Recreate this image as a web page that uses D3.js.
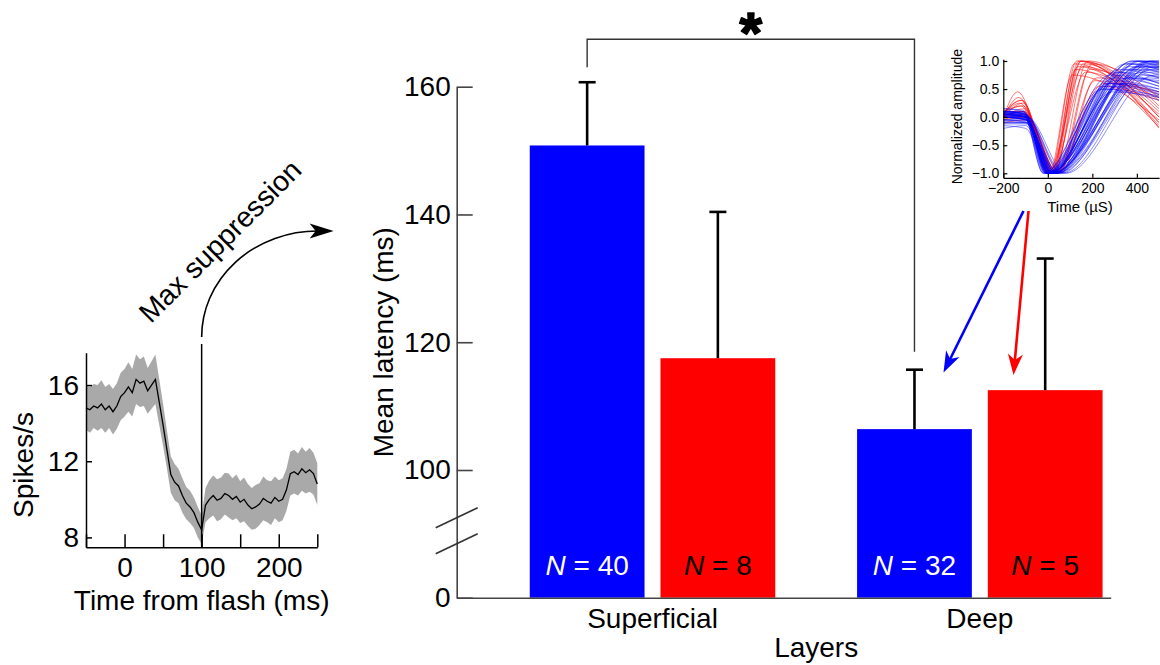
<!DOCTYPE html>
<html>
<head>
<meta charset="utf-8">
<script src="https://cdn.jsdelivr.net/npm/d3@7"></script>
<style>
  html, body { margin: 0; padding: 0; background: #fff; }
  svg { display: block; font-family: "Liberation Sans", Arial, Helvetica, sans-serif; }
</style>
</head>
<body>
<svg id="fig" width="1160" height="665"></svg>
<script>
// ---------------- Mean latency by layer and cell type ----------------
const layers = ["Superficial", "Deep"];
const cellTypes = ["broad", "narrow"];
const cellColors = ["#0000ff", "#ff0000"];
const cellTextColors = ["#ffffff", "#000000"];
const latencyMean = [[150.8, 117.5], [106.4, 112.5]];
const latencySem = [[9.9, 22.9], [9.3, 20.6]];
const cellCounts = [[40, 8], [32, 5]];
const latencyTicks = [0, 100, 120, 140, 160];

// ---------------- Population PSTH around the flash ----------------
const psthTime = [-50, -45, -40, -35, -30, -25, -20, -15, -10, -5,
  0, 5, 10, 15, 20, 25, 30, 35, 40, 45,
  50, 55, 60, 65, 70, 75, 80, 85, 90, 95,
  100, 105, 110, 115, 120, 125, 130, 135, 140, 145,
  150, 155, 160, 165, 170, 175, 180, 185, 190, 195,
  200, 205, 210, 215, 220, 225, 230, 235, 240, 245, 250];
const psthMean = [14.8, 14.7, 14.9, 14.8, 15.0, 14.7, 14.9, 14.6, 14.9, 15.4,
  15.6, 15.9, 15.6, 16.3, 16.1, 16.2, 15.7, 16.0, 16.3, 15.1,
  13.9, 12.6, 11.3, 10.9, 10.7, 10.2, 9.8, 9.6, 9.3, 8.8,
  8.4, 9.7, 10.0, 10.2, 9.95, 10.05, 10.3, 10.2, 10.0, 10.15,
  9.85, 10.0, 9.7, 9.5, 9.6, 9.75, 10.05, 9.9, 9.8, 10.1,
  9.9, 10.0, 10.5, 11.35, 11.45, 11.3, 11.6, 11.4, 11.55, 11.35, 10.8];
const psthSem = [1.15, 1.2, 1.15, 1.2, 1.25, 1.2, 1.15, 1.2, 1.2, 1.25,
  1.25, 1.3, 1.25, 1.3, 1.25, 1.3, 1.2, 1.25, 1.3, 1.2,
  1.1, 1.0, 0.95, 0.95, 0.9, 0.9, 0.85, 0.85, 0.8, 0.8,
  0.75, 0.9, 1.0, 1.05, 1.1, 1.1, 1.1, 1.15, 1.1, 1.15,
  1.1, 1.15, 1.1, 1.1, 1.15, 1.1, 1.15, 1.1, 1.15, 1.1,
  1.1, 1.1, 1.1, 1.15, 1.15, 1.1, 1.15, 1.1, 1.15, 1.1, 1.1];
const psthYTicks = [8, 12, 16];
const psthXTicks = [-50, 0, 50, 100, 150, 200, 250];
const psthXLabels = [0, 100, 200];
const suppressionTime = 100;

// ---------------- Spike waveforms ----------------
// each row: [amp at -200, pre-trough time, pre-trough amp, trough time, peak time, peak amp, amp at 500]
const broadWaves = [
  [0.05, -100, 0.0, 0, 420, 1.0, 0.95], [0.1, -110, 0.05, 10, 380, 1.0, 0.9],
  [0.0, -90, -0.05, -10, 350, 0.95, 0.85], [-0.1, -100, -0.1, 20, 450, 1.0, 0.98],
  [0.15, -110, 0.1, -20, 300, 0.7, 0.55], [0.05, -95, 0.0, 5, 280, 0.6, 0.45],
  [0.0, -100, 0.02, 15, 320, 0.8, 0.7], [-0.05, -90, -0.1, 30, 400, 0.9, 0.88],
  [0.1, -105, 0.05, -5, 260, 0.55, 0.35], [0.08, -100, 0.0, 0, 470, 1.0, 1.0],
  [0.0, -95, -0.05, 25, 440, 0.95, 0.93], [-0.15, -100, -0.2, 10, 360, 0.85, 0.75],
  [0.05, -110, 0.08, -15, 240, 0.5, 0.3], [0.12, -100, 0.05, 5, 330, 0.75, 0.6],
  [0.0, -90, -0.02, 35, 480, 0.95, 0.94], [0.06, -100, 0.0, 20, 300, 0.65, 0.5],
  [-0.05, -100, -0.08, 40, 420, 0.8, 0.78], [0.1, -110, 0.1, -10, 380, 1.0, 0.92],
  [0.02, -95, 0.0, 0, 410, 0.9, 0.85], [-0.2, -100, -0.15, 15, 460, 1.0, 0.98],
  [0.08, -105, 0.02, 25, 350, 0.7, 0.62], [0.0, -100, -0.05, 10, 290, 0.45, 0.35],
  [0.05, -90, 0.0, 60, 440, 0.85, 0.82], [0.1, -100, 0.05, 70, 480, 0.9, 0.9],
  [-0.1, -95, -0.1, 30, 330, 0.6, 0.5], [0.03, -100, 0.0, -5, 370, 0.9, 0.8],
  [0.15, -110, 0.12, 0, 400, 1.0, 0.96], [0.0, -100, -0.05, 20, 430, 0.75, 0.72],
  [0.05, -90, 0.0, 45, 360, 0.7, 0.65], [-0.05, -100, -0.03, 5, 250, 0.5, 0.38],
  [0.1, -100, 0.05, 15, 480, 1.0, 1.0], [0.0, -105, -0.02, -10, 320, 0.85, 0.7],
  [0.07, -95, 0.03, 35, 390, 0.95, 0.9], [-0.08, -100, -0.1, 50, 450, 0.7, 0.68],
  [0.04, -100, 0.0, 10, 340, 0.6, 0.45], [0.1, -110, 0.06, -20, 280, 0.75, 0.55],
  [0.0, -95, -0.04, 25, 410, 1.0, 0.97], [0.06, -100, 0.02, 0, 310, 0.55, 0.4],
  [-0.12, -100, -0.12, 40, 470, 0.85, 0.84], [0.08, -100, 0.04, 5, 360, 0.95, 0.87],
  [0.02, -90, 0.0, 80, 480, 0.75, 0.75], [0.1, -105, 0.08, 15, 300, 0.8, 0.6],
  [0.0, -100, -0.03, 30, 440, 0.9, 0.88], [-0.05, -95, -0.06, -5, 270, 0.6, 0.42],
  [0.05, -100, 0.0, 20, 390, 0.85, 0.8]
];
const narrowWaves = [
  [0.0, -135, 0.45, 20, 130, 1.0, -0.1], [0.05, -120, 0.3, 30, 150, 1.0, 0.0],
  [0.0, -110, 0.25, 10, 120, 0.95, -0.15], [-0.05, -100, 0.05, 40, 180, 1.0, 0.2],
  [0.1, -110, 0.1, 0, 160, 0.9, 0.1], [0.0, -130, 0.35, 25, 140, 1.0, -0.2],
  [0.05, -100, 0.0, 50, 200, 0.95, 0.35], [0.0, -105, 0.15, 15, 170, 0.8, 0.05],
  [-0.1, -100, -0.05, 35, 220, 0.7, 0.4], [0.05, -120, 0.2, 5, 110, 0.75, -0.05],
  [0.0, -100, 0.05, 45, 190, 0.85, 0.3], [0.08, -115, 0.3, 20, 135, 0.9, -0.1],
  [0.0, -100, 0.0, 30, 250, 0.6, 0.45], [0.02, -110, 0.1, 10, 150, 1.0, 0.15],
  [-0.05, -100, 0.0, 60, 210, 0.65, 0.35], [0.05, -125, 0.25, 25, 160, 0.95, 0.0],
  [0.0, -105, 0.1, 40, 230, 0.55, 0.3], [0.1, -110, 0.2, 15, 125, 0.85, -0.18]
];
const waveXTicks = [-200, 0, 200, 400];
const waveYTicks = [-1, -0.5, 0, 0.5, 1];

// ------------------------------------------------------------------
const FONT = '"Liberation Sans", Arial, Helvetica, sans-serif';
const svg = d3.select("#fig");

function styleAxis(g, size, color) {
  g.attr("font-family", FONT).attr("font-size", size);
  g.selectAll("text").attr("fill", "#000");
  g.selectAll("line").attr("stroke", color);
  g.select(".domain").attr("stroke", color);
}

function arrowHead(g, tip, angle, len, halfW, notch, color) {
  const pts = [[0, 0], [-len, -halfW], [-len + notch, 0], [-len, halfW]];
  g.append("polygon")
    .attr("points", pts.map(p => p.join(",")).join(" "))
    .attr("fill", color)
    .attr("transform", `translate(${tip[0]},${tip[1]}) rotate(${angle * 180 / Math.PI})`);
}

// ================= main bar chart =================
const y = d3.scaleLinear().domain([0, 100, 160]).range([597.7, 470, 86.7]);
const x0 = d3.scaleBand().domain(layers).range([456.7, 1110.7])
  .paddingInner(0.25).paddingOuter(0.124).align(0.9);
const x1 = d3.scaleBand().domain(cellTypes).range([0, x0.bandwidth()]).paddingInner(0.122);

const bars = [];
layers.forEach((layer, i) => cellTypes.forEach((ct, j) => bars.push({
  layer, ct, j, mean: latencyMean[i][j], sem: latencySem[i][j], n: cellCounts[i][j]
})));
const bx = d => x0(d.layer) + x1(d.ct);
const bc = d => bx(d) + x1.bandwidth() / 2;

const main = svg.append("g");
main.selectAll("rect.bar").data(bars).join("rect")
  .attr("class", "bar")
  .attr("x", bx).attr("width", x1.bandwidth())
  .attr("y", d => y(d.mean)).attr("height", d => y(0) - y(d.mean))
  .attr("fill", d => cellColors[d.j]);

// upper error bars
const capW = 17;
main.selectAll("line.err").data(bars).join("line")
  .attr("class", "err")
  .attr("x1", bc).attr("x2", bc)
  .attr("y1", d => y(d.mean)).attr("y2", d => y(d.mean + d.sem))
  .attr("stroke", "#000").attr("stroke-width", 2.6);
main.selectAll("line.cap").data(bars).join("line")
  .attr("class", "cap")
  .attr("x1", d => bc(d) - capW / 2).attr("x2", d => bc(d) + capW / 2)
  .attr("y1", d => y(d.mean + d.sem)).attr("y2", d => y(d.mean + d.sem))
  .attr("stroke", "#000").attr("stroke-width", 2.6);

// sample sizes
const nText = main.selectAll("text.n").data(bars).join("text")
  .attr("class", "n")
  .attr("x", bc).attr("y", 575)
  .attr("text-anchor", "middle")
  .attr("font-family", FONT).attr("font-size", 28)
  .attr("fill", d => cellTextColors[d.j]);
nText.append("tspan").attr("font-style", "italic").text("N");
nText.append("tspan").text(d => " = " + d.n);

// y axis (broken between 0 and 100)
const yAxisG = main.append("g").attr("transform", `translate(${x0.range()[0]},0)`)
  .call(d3.axisLeft(y).tickValues(latencyTicks).tickSizeInner(-16).tickSizeOuter(0)
    .tickPadding(6).tickFormat(d3.format("d")));
styleAxis(yAxisG, 28, "#444");
yAxisG.selectAll("line, .domain").attr("stroke-width", 1.6);

// axis break marks
[80, 54].forEach(off => {
  main.append("line")
    .attr("x1", x0.range()[0] - 21).attr("y1", y(0) - off + 10)
    .attr("x2", x0.range()[0] + 21).attr("y2", y(0) - off - 10)
    .attr("stroke", "#333").attr("stroke-width", 1.6);
});

// x axis
const xAxisG = main.append("g").attr("transform", `translate(0,${y(0)})`)
  .call(d3.axisBottom(x0).tickSize(0).tickPadding(10));
styleAxis(xAxisG, 28, "#444");
xAxisG.select(".domain").attr("stroke-width", 1.6);

const barsLeft = bx(bars[0]);
const barsRight = bx(bars[bars.length - 1]) + x1.bandwidth();
main.append("text")
  .attr("x", (barsLeft + barsRight) / 2).attr("y", 656.5)
  .attr("text-anchor", "middle").attr("font-family", FONT).attr("font-size", 28)
  .text("Layers");
main.append("text")
  .attr("transform", `translate(393,${(y(0) + y(160)) / 2}) rotate(-90)`)
  .attr("text-anchor", "middle").attr("font-family", FONT).attr("font-size", 28)
  .text("Mean latency (ms)");

// significance bracket between superficial broad and deep broad
const bL = bars[0], bR = bars[2];
const bTop = y(bL.mean + bL.sem) - 43;
main.append("path")
  .attr("d", `M${bc(bL)},${y(bL.mean + bL.sem) - 15} V${bTop} H${bc(bR)} V${y(bR.mean + bR.sem) - 18}`)
  .attr("fill", "none").attr("stroke", "#333").attr("stroke-width", 1.4);
main.append("text")
  .attr("x", (bc(bL) + bc(bR)) / 2).attr("y", bTop + 13.5)
  .attr("text-anchor", "middle").attr("font-family", FONT)
  .attr("font-weight", "bold").attr("font-size", 58)
  .attr("stroke", "#000").attr("stroke-width", 1.6).attr("stroke-linejoin", "round")
  .text("*");

// ================= PSTH inset =================
const px = d3.scaleLinear().domain([-50, 250]).range([86, 317.3]);
const py = d3.scaleLinear().domain([7.48, 17.7]).range([547.3, 352.7]);
const psth = psthTime.map((t, i) => ({ t, m: psthMean[i], s: psthSem[i] }));
const inset1 = svg.append("g");
inset1.append("path").datum(psth)
  .attr("d", d3.area().x(d => px(d.t)).y0(d => py(d.m - d.s)).y1(d => py(d.m + d.s)))
  .attr("fill", "#a9a9a9");
inset1.append("path").datum(psth)
  .attr("d", d3.line().x(d => px(d.t)).y(d => py(d.m)))
  .attr("fill", "none").attr("stroke", "#000").attr("stroke-width", 1.3);

const pyAxis = inset1.append("g").attr("transform", `translate(${px(-50)},0)`)
  .call(d3.axisLeft(py).tickValues(psthYTicks).tickSizeInner(-6).tickSizeOuter(0).tickPadding(7));
styleAxis(pyAxis, 28, "#000");
pyAxis.selectAll("line, .domain").attr("stroke-width", 1.5);
const pxAxis = inset1.append("g").attr("transform", `translate(0,${py(7.48)})`)
  .call(d3.axisBottom(px).tickValues(psthXTicks).tickSizeInner(-13).tickSizeOuter(0).tickPadding(9.5)
    .tickFormat(d => psthXLabels.includes(d) ? d : ""));
styleAxis(pxAxis, 28, "#000");
pxAxis.selectAll("line, .domain").attr("stroke-width", 1.5);

inset1.append("text")
  .attr("x", px(100)).attr("y", 610)
  .attr("text-anchor", "middle").attr("font-family", FONT).attr("font-size", 28)
  .text("Time from flash (ms)");
inset1.append("text")
  .attr("transform", `translate(33,${(py(7.48) + py(17.7)) / 2 + 15}) rotate(-90)`)
  .attr("text-anchor", "middle").attr("font-family", FONT).attr("font-size", 28)
  .text("Spikes/s");

// marker at the time of max suppression, with curved arrow to the latency plot
const sx = px(suppressionTime);
inset1.append("line")
  .attr("x1", sx).attr("x2", sx).attr("y1", py(7.48)).attr("y2", 344)
  .attr("stroke", "#000").attr("stroke-width", 1.5);
const arcRx = 116, arcRy = 106, arcY0 = 337;
inset1.append("path")
  .attr("d", `M${sx},${arcY0} A${arcRx},${arcRy} 0 0 1 ${sx + arcRx},${arcY0 - arcRy} H${sx + arcRx + 8}`)
  .attr("fill", "none").attr("stroke", "#000").attr("stroke-width", 1.6);
arrowHead(inset1, [sx + arcRx + 16, arcY0 - arcRy], 0, 24, 7.5, 6, "#000");
inset1.append("text")
  .attr("transform", "translate(227,248) rotate(-45)")
  .attr("text-anchor", "middle").attr("font-family", FONT).attr("font-size", 28.5)
  .text("Max suppression");

// ================= waveform inset =================
const wx = d3.scaleLinear().domain([-200, 500]).range([1003.3, 1159.1]);
const wy = d3.scaleLinear().domain([-1.08, 1.03]).range([177.8, 59.3]);
const inset2 = svg.append("g");
svg.append("defs").append("clipPath").attr("id", "waveClip")
  .append("rect").attr("x", wx(-200)).attr("y", wy(1.03) - 2)
  .attr("width", wx(500) - wx(-200)).attr("height", wy(-1.08) - wy(1.03) + 2);
const waveLine = d3.line().x(d => wx(d[0])).y(d => wy(d[1])).curve(d3.curveMonotoneX);
const wavePoints = r => [[-200, r[0]], [r[1], r[2]], [r[3], -1], [r[4], r[5]], [500, r[6]]];
const wg = inset2.append("g").attr("clip-path", "url(#waveClip)");
wg.selectAll("path.nw").data(narrowWaves).join("path")
  .attr("class", "nw").attr("d", r => waveLine(wavePoints(r)))
  .attr("fill", "none").attr("stroke", "#ff0000").attr("stroke-width", 0.9).attr("stroke-opacity", 0.6);
wg.selectAll("path.bw").data(broadWaves).join("path")
  .attr("class", "bw").attr("d", r => waveLine(wavePoints(r)))
  .attr("fill", "none").attr("stroke", "#0000ff").attr("stroke-width", 0.9).attr("stroke-opacity", 0.5);

const wyAxis = inset2.append("g").attr("transform", `translate(${wx(-200)},0)`)
  .call(d3.axisLeft(wy).tickValues(waveYTicks).tickSizeInner(-4).tickSizeOuter(0).tickPadding(4)
    .tickFormat(d3.format(".1f")));
styleAxis(wyAxis, 14, "#000");
wyAxis.selectAll("line, .domain").attr("stroke-width", 1.2);
const wxAxis = inset2.append("g").attr("transform", `translate(0,${wy(-1.08)})`)
  .call(d3.axisBottom(wx).tickValues(waveXTicks).tickSizeInner(-4).tickSizeOuter(0).tickPadding(5)
    .tickFormat(d3.format("d")));
styleAxis(wxAxis, 14, "#000");
wxAxis.selectAll("line, .domain").attr("stroke-width", 1.2);

inset2.append("text")
  .attr("x", 1080).attr("y", 212)
  .attr("text-anchor", "middle").attr("font-family", FONT).attr("font-size", 15)
  .text("Time (\u00b5S)");
inset2.append("text")
  .attr("transform", `translate(962,${wy(0) - 0.5}) rotate(-90)`)
  .attr("text-anchor", "middle").attr("font-family", FONT).attr("font-size", 14)
  .text("Normalized amplitude");

// arrows from waveform classes to the deep-layer bars
function pointer(from, to, color) {
  const ang = Math.atan2(to[1] - from[1], to[0] - from[0]);
  const back = 10;
  inset2.append("line")
    .attr("x1", from[0]).attr("y1", from[1])
    .attr("x2", to[0] - back * Math.cos(ang)).attr("y2", to[1] - back * Math.sin(ang))
    .attr("stroke", color).attr("stroke-width", 2.6);
  arrowHead(inset2, to, ang, 21, 7.5, 6, color);
}
pointer([1023.5, 211], [943.5, 372.5], "#0000ff");
pointer([1028.5, 211], [1013.5, 375], "#ff0000");
</script>
</body>
</html>
